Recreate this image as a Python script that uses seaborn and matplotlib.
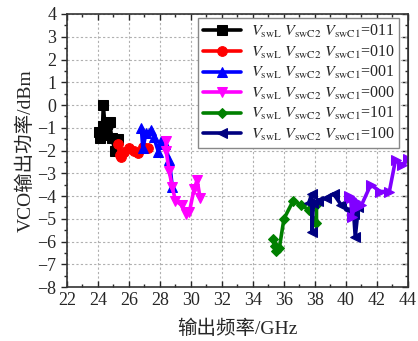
import matplotlib
matplotlib.use("Agg")
import matplotlib.pyplot as plt
import seaborn as sb
from matplotlib.ticker import MultipleLocator

# data (GHz, dBm)
f_011 = [24.1, 24.15, 24.3, 24.35, 24.5, 24.6, 24.75, 24.9, 25.1, 25.3]
p_011 = [-1.2, -1.45, -0.9, 0.0, -1.3, -0.85, -0.75, -1.45, -2.0, -1.5]

f_010 = [25.3, 25.4, 25.5, 25.7, 26.0, 26.3, 26.6, 26.9, 27.2]
p_010 = [-1.7, -2.2, -2.3, -2.05, -1.9, -2.0, -2.1, -1.85, -1.9]

f_001 = [26.8, 26.9, 27.1, 27.4, 27.6, 27.9, 28.1, 28.3, 28.6, 28.8]
p_001 = [-1.0, -1.9, -1.25, -1.1, -1.4, -2.05, -1.6, -1.7, -2.4, -3.6]

f_000 = [28.4, 28.4, 28.6, 28.8, 29.0, 29.4, 29.7, 29.9, 30.2, 30.4, 30.6]
p_000 = [-1.6, -2.0, -2.9, -3.6, -4.2, -4.4, -4.8, -4.7, -3.7, -3.3, -4.1]

f_101 = [35.3, 35.4, 35.5, 35.7, 36.0, 36.6, 37.1, 37.6, 38.1, 38.1]
p_101 = [-5.9, -6.2, -6.4, -6.3, -5.0, -4.2, -4.4, -4.6, -5.2, -4.4]

f_100 = [37.6, 37.8, 37.8, 37.9, 38.2, 38.7, 39.2, 39.7, 40.2, 40.5, 40.6, 40.8]
p_100 = [-4.3, -3.9, -5.6, -4.3, -4.2, -4.1, -3.9, -4.4, -4.6, -4.8, -5.8, -4.5]

# extra series, not in the legend
f_extra = [40.2, 40.3, 40.4, 40.6, 40.8, 41.0, 41.6, 42.2, 42.8, 43.2, 43.6, 44.0]
p_extra = [-4.0, -4.1, -4.9, -4.2, -4.5, -4.4, -3.5, -3.8, -3.8, -2.4, -2.65, -2.35]

codes = ["011", "010", "001", "000", "101", "100"]

sb.set_style("ticks")
plt.rcParams["font.family"] = ["Liberation Serif", "Noto Sans CJK SC"]
plt.rcParams["mathtext.fontset"] = "stix"

fig = plt.figure(figsize=(4.18, 3.41), dpi=100)
ax = fig.add_axes([0.160, 0.158, 0.816, 0.801])

series = [
    (f_011, p_011, "black", "s"),
    (f_010, p_010, "#ff0000", "o"),
    (f_001, p_001, "#0000ff", "^"),
    (f_000, p_000, "#ff00ff", "v"),
    (f_101, p_101, "#008000", "D"),
    (f_100, p_100, "#000080", "<"),
]

for (fx, py, c, m), code in zip(series, codes):
    lab = r"$V_{\mathrm{swL}}$ $V_{\mathrm{swC2}}$ $V_{\mathrm{swC1}}$=" + code
    ms = 5.5 if m == "D" else 7
    sb.lineplot(x=fx, y=py, color=c, marker=m, sort=False, estimator=None, ax=ax,
                label=lab, linewidth=2.6, markersize=ms, markeredgecolor=c)

sb.lineplot(x=f_extra, y=p_extra, color="#8000ff", marker=">", sort=False,
            estimator=None, ax=ax, legend=False, linewidth=2.6, markersize=7,
            markeredgecolor="#8000ff")

ax.set_xlim(22, 44)
ax.set_ylim(-8, 4)
ax.xaxis.set_major_locator(MultipleLocator(2))
ax.xaxis.set_minor_locator(MultipleLocator(1))
ax.yaxis.set_major_locator(MultipleLocator(1))
ax.yaxis.set_minor_locator(MultipleLocator(0.5))
ax.grid(True, which="major", linestyle=(0, (2, 2)), color="#b0b0b0", linewidth=0.8)

for s in ax.spines.values():
    s.set_linewidth(1.2)
    s.set_color("#333333")

ax.tick_params(axis="x", which="both", direction="in", top=True, labelsize=13)
ax.tick_params(axis="y", which="both", direction="out", right=False, labelsize=13)
ax.tick_params(which="major", length=4, width=1)
ax.tick_params(which="minor", length=2.5, width=1)

ax2 = ax.secondary_yaxis("right")
ax2.yaxis.set_major_locator(MultipleLocator(1))
ax2.yaxis.set_minor_locator(MultipleLocator(0.5))
ax2.tick_params(which="both", direction="in", labelright=False)
ax2.tick_params(which="major", length=4, width=1)
ax2.tick_params(which="minor", length=2.5, width=1)

ax.set_xlabel("输出频率/GHz", fontsize=14, labelpad=8)
ax.set_ylabel("VCO输出功率/dBm", fontsize=14, labelpad=2)

leg = ax.legend(loc="upper right", bbox_to_anchor=(0.975, 0.985), fontsize=11.5,
                handlelength=2.4, labelspacing=0.22, borderpad=0.3,
                handletextpad=0.6, borderaxespad=0, fancybox=False,
                framealpha=1, edgecolor="#888888")

fig.savefig("out.png", dpi=100)
